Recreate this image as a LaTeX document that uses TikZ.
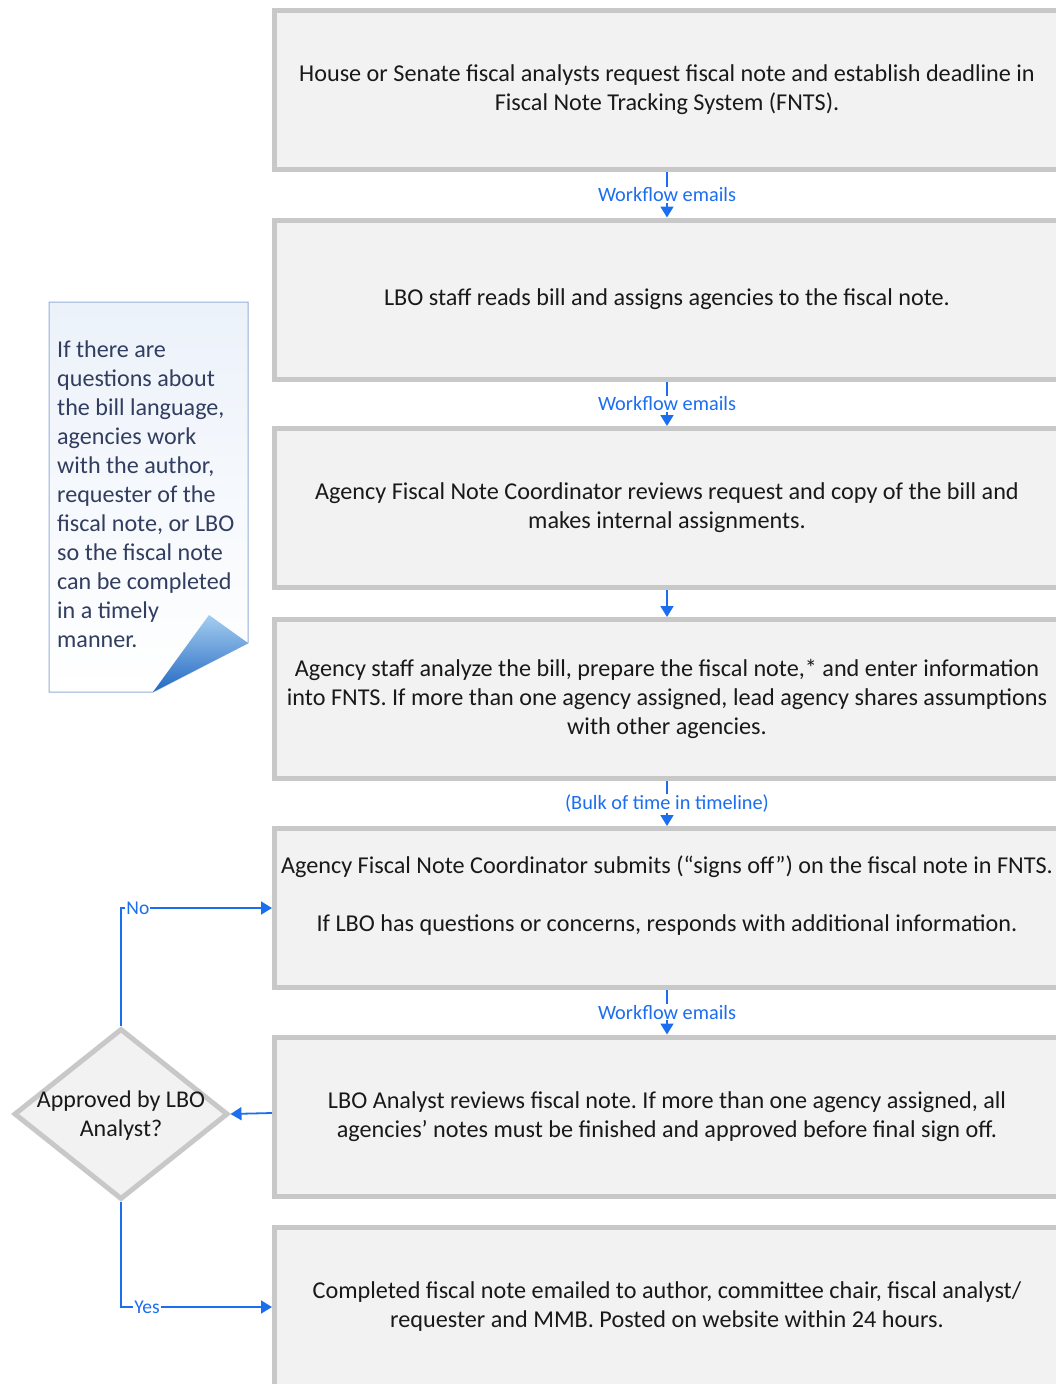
\documentclass[tikz,border=0pt]{standalone}
\usepackage{fontspec}
\setmainfont{Carlito}
\frenchspacing
\usetikzlibrary{shapes.geometric,arrows.meta}
\definecolor{boxfill}{RGB}{242,242,242}
\definecolor{boxline}{RGB}{200,200,200}
\definecolor{flowblue}{RGB}{28,110,240}
\definecolor{notetext}{RGB}{50,62,96}
\definecolor{noteline}{RGB}{150,175,215}
\definecolor{notefill}{RGB}{236,242,250}
\definecolor{foldlight}{RGB}{165,205,240}
\definecolor{folddark}{RGB}{35,105,195}

\begin{document}
\begin{tikzpicture}[x=1pt,y=-1pt,
	stage/.style={rectangle, draw=boxline, fill=boxfill, line width=5pt, minimum width=785pt, minimum height=159pt, align=center, text=black!90, font=\fontsize{24.2}{29}\selectfont},
	decision/.style={diamond, draw=boxline, fill=boxfill, line width=5pt, minimum width=214pt, minimum height=171pt, inner sep=0pt},
	flow/.style={draw=flowblue, line width=1.8pt, -{Triangle[length=11pt,width=13pt]}},
	flowtag/.style={fill=white, text=flowblue, inner sep=1pt, font=\fontsize{20.3}{22}\selectfont}]
	\useasboundingbox (0,0) rectangle (1056,1384);
	\clip (0,0) rectangle (1056,1384);
	\node[stage] (b1) at (667,90) {House or Senate fiscal analysts request fiscal note and establish deadline in\\ Fiscal Note Tracking System (FNTS).};
	\node[stage] (b2) at (667,299.5) {LBO staff reads bill and assigns agencies to the fiscal note.};
	\node[stage] (b3) at (667,508) {Agency Fiscal Note Coordinator reviews request and copy of the bill and\\ makes internal assignments.};
	\node[stage] (b4) at (667,699) {Agency staff analyze the bill, prepare the fiscal note,* and enter information\\ into FNTS. If more than one agency assigned, lead agency shares assumptions\\ with other agencies.};
	\node[stage] (b5) at (667,908) {Agency Fiscal Note Coordinator submits (“signs off”) on the fiscal note in FNTS.\\ ~\\ If LBO has questions or concerns, responds with additional information.\\ ~};
	\node[stage] (b6) at (667,1116.5) {LBO Analyst reviews fiscal note. If more than one agency assigned, all\\ agencies’ notes must be finished and approved before final sign off.};
	\node[stage] (b7) at (667,1307) {Completed fiscal note emailed to author, committee chair, fiscal analyst/\\ requester and MMB. Posted on website within 24 hours.};
	\node[decision, label={[align=center, text=black!90, font=\fontsize{24}{29}\selectfont, yshift=-2pt]center:Approved by LBO\\ Analyst?}] (dec) at (121,1114) {};
	\path[draw=noteline, line width=1pt, top color=notefill, bottom color=white] (49,302) -- (248,302) -- (248,643) -- (153,692) -- (49,692) -- cycle;
	\path[top color=foldlight, bottom color=folddark] (209,615) -- (248,643) -- (153,692) -- cycle;
	\node[anchor=west, align=left, inner sep=0pt, text=notetext, font=\fontsize{24.1}{29}\selectfont] (tip) at (57,494) {If there are\\ questions about\\ the bill language,\\ agencies work\\ with the author,\\ requester of the\\ fiscal note, or LBO\\ so the fiscal note\\ can be completed\\ in a timely\\ manner.};
	\draw[flow] (b1) -- (b2) node[midway, flowtag] {Workflow emails};
	\draw[flow] (b2) -- (b3) node[midway, flowtag] {Workflow emails};
	\draw[flow] (b3) -- (b4);
	\draw[flow] (b4) -- (b5) node[midway, flowtag] {(Bulk of time in timeline)};
	\draw[flow] (b5) -- (b6) node[midway, flowtag] {Workflow emails};
	\draw[flow] (b6.west |- 0,1113) -- (dec.east);
	\draw[flow] (dec.north) |- (b5.west) node[pos=0.556, flowtag, font=\fontsize{19.5}{20}\selectfont] {No};
	\draw[flow] (dec.south) |- (b7.west) node[pos=0.586, flowtag, font=\fontsize{19.5}{20}\selectfont] {Yes};
\end{tikzpicture}
\end{document}
